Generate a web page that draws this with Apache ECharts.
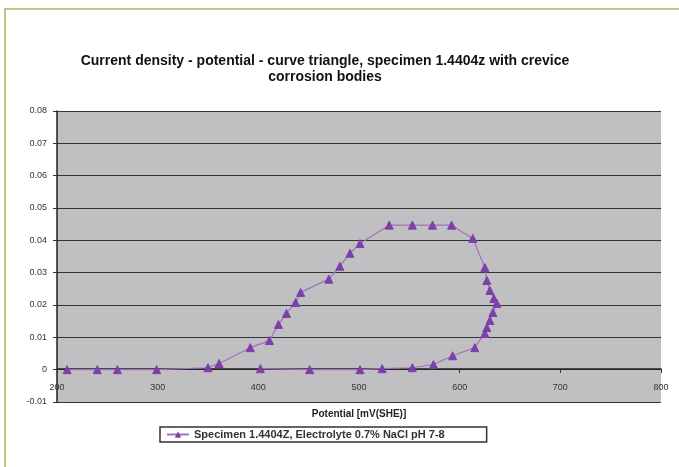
<!DOCTYPE html>
<html>
<head>
<meta charset="utf-8">
<script src="https://cdn.jsdelivr.net/npm/echarts@6/dist/echarts.min.js"></script>
<style>
html,body{margin:0;padding:0;background:#fff;}
#chart{width:679px;height:467px;}
</style>
</head>
<body>
<div id="chart"></div>
<script>
// Data
var potential = [210, 240, 260, 299, 350, 361, 392, 411, 420, 428, 437, 442, 470, 481, 491, 501, 530, 553, 573, 592, 613, 625, 627, 630, 634, 637, 633, 630, 627, 625, 615, 593, 574, 553, 523, 501, 451, 402];
var currentDensity = [0, 0, 0, 0, 0.0006, 0.0019, 0.0068, 0.009, 0.014, 0.0174, 0.0208, 0.0239, 0.028, 0.032, 0.036, 0.039, 0.0447, 0.0447, 0.0447, 0.0447, 0.0406, 0.0316, 0.0276, 0.0245, 0.022, 0.0205, 0.0177, 0.0152, 0.013, 0.0112, 0.0068, 0.0043, 0.0016, 0.0006, 0.0003, 0, 0, 0.0003];
var xTicks = [200, 300, 400, 500, 600, 700, 800];
var yTicks = [-0.01, 0, 0.01, 0.02, 0.03, 0.04, 0.05, 0.06, 0.07, 0.08];
var seriesName = 'Specimen 1.4404Z, Electrolyte 0.7% NaCl pH 7-8';
var titleText = 'Current density - potential - curve triangle, specimen 1.4404z with crevice\ncorrosion bodies';
var xName = 'Potential [mV(SHE)]';

var points = potential.map(function (p, i) { return [p, currentDensity[i]]; });

var chart = echarts.init(document.getElementById('chart'));
chart.setOption({
  animation: false,
  backgroundColor: '#ffffff',
  graphic: [{
    type: 'rect',
    shape: { x: 5, y: 9, width: 700, height: 480 },
    style: { fill: 'none', stroke: '#9bbb59', lineWidth: 1.5 },
    silent: true
  }],
  title: {
    text: titleText,
    left: 320,
    top: 48,
    textAlign: 'center',
    textStyle: {
      fontFamily: 'Liberation Sans, Arial, sans-serif',
      fontSize: 14,
      fontWeight: 'bold',
      color: '#111',
      lineHeight: 16,
      align: 'center'
    }
  },
  grid: {
    left: 57,
    right: 18,
    top: 111,
    bottom: 65,
    show: true,
    backgroundColor: '#c0c0c2',
    borderWidth: 0
  },
  xAxis: {
    type: 'value',
    min: xTicks[0],
    max: xTicks[xTicks.length - 1],
    interval: 100,
    offset: -33,
    name: xName,
    nameLocation: 'middle',
    nameGap: 40,
    nameTextStyle: {
      fontFamily: 'Liberation Sans, Arial, sans-serif',
      fontSize: 10,
      fontWeight: 'bold',
      color: '#222'
    },
    axisLine: { onZero: false, lineStyle: { color: '#222', width: 1.5 } },
    axisTick: { show: true, length: 4, inside: false, lineStyle: { color: '#333' } },
    axisLabel: {
      margin: 14,
      fontFamily: 'Liberation Sans, Arial, sans-serif',
      fontSize: 9,
      color: '#333'
    },
    splitLine: { show: false }
  },
  yAxis: {
    type: 'value',
    min: yTicks[0],
    max: yTicks[yTicks.length - 1],
    interval: 0.01,
    axisLine: { show: true, onZero: false, lineStyle: { color: '#222', width: 1.5 } },
    axisTick: { show: true, length: 4, lineStyle: { color: '#333' } },
    axisLabel: {
      margin: 10,
      fontFamily: 'Liberation Sans, Arial, sans-serif',
      fontSize: 9,
      color: '#333',
      formatter: function (v) {
        var r = Math.round(v * 100) / 100;
        return r === 0 ? '0' : r.toFixed(2);
      }
    },
    splitLine: { show: true, lineStyle: { color: '#353535', width: 1.2 } }
  },
  legend: {
    left: 160,
    top: 427,
    data: [seriesName],
    borderColor: '#333',
    borderWidth: 1.5,
    borderRadius: 0,
    padding: [2, 42, 2, 6],
    itemWidth: 22,
    itemHeight: 8,
    backgroundColor: '#fff',
    textStyle: {
      fontFamily: 'Liberation Sans, Arial, sans-serif',
      fontSize: 11,
      fontWeight: 'bold',
      color: '#333'
    }
  },
  series: [{
    name: seriesName,
    type: 'line',
    data: points,
    symbol: 'triangle',
    symbolSize: 8,
    lineStyle: { color: '#a070c0', width: 1.2 },
    itemStyle: { color: '#7d3fa8', borderColor: '#7d3fa8' },
    z: 3
  }]
});
</script>
</body>
</html>
